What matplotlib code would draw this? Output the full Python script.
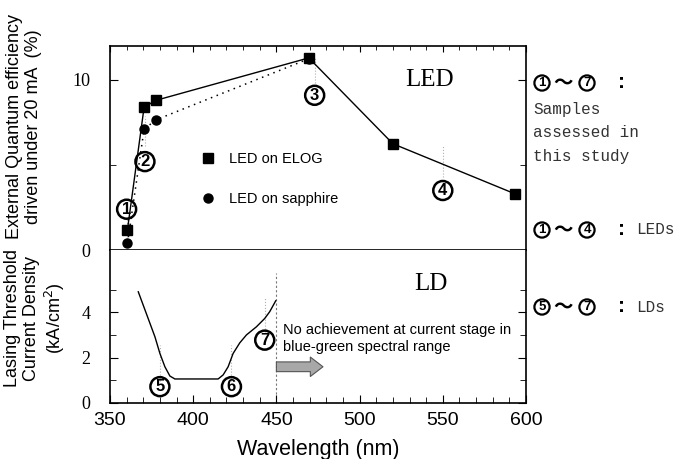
import matplotlib.pyplot as plt
import matplotlib.ticker as mticker

# 数据
elog_wl = [360.5, 370.5, 377.5, 469.5, 520, 593.5]
elog_eqe = [1.2, 8.4, 8.8, 11.3, 6.25, 3.3]
sapp_wl = [360.5, 370.5, 377.5, 469.5]
sapp_eqe = [0.4, 7.1, 7.65, 11.25]

ld_wl = [367, 377, 380, 383, 386, 389, 415, 418, 421, 424, 428, 432, 438, 443, 446, 449.6]
ld_jth = [4.91, 2.92, 2.18, 1.59, 1.18, 1.05, 1.05, 1.23, 1.59, 2.18, 2.65, 3.0, 3.36, 3.73, 4.03, 4.51]

# 样品编号（圆圈数字）
led_tags = ['1', '2', '3', '4']
led_tag_wl = [360, 371, 473, 550]
led_tag_y = [2.4, 5.2, 9.1, 3.5]
led_guide_lo = [0.0, 6.1, 9.8, 4.3]
led_guide_hi = [1.9, 7.9, 11.3, 6.1]

ld_tags = ['5', '6', '7']
ld_tag_wl = [380, 423, 443]
ld_tag_y = [0.71, 0.71, 2.77]
ld_guide_lo = [0.95, 0.95, 3.14]
ld_guide_hi = [2.55, 2.55, 4.62]

ld_limit_wl = 450
ld_limit_top = 5.73

# 右侧说明
note_ranges = [('1', '7'), ('1', '4'), ('5', '7')]
note_words = ['Samples\nassessed in\nthis study', 'LEDs', 'LDs']

CJK = ['Noto Sans CJK JP', 'DejaVu Sans']
SANS = 'Liberation Sans'
SERIF = 'Liberation Serif'
MONO = 'Liberation Mono'


def circled(obj, x, y, s, size, lw, **kw):
    return obj.text(x, y, s, ha='center', va='center', fontsize=size, fontweight='bold',
                    family=SANS, bbox=dict(boxstyle='circle,pad=0.12', fc='none', ec='k', lw=lw),
                    **kw)


fig = plt.figure(figsize=(6.76, 4.59), dpi=100)
ax1 = fig.add_axes([0.1627, 0.4553, 0.6154, 0.4445])
ax2 = fig.add_axes([0.1627, 0.1227, 0.6154, 0.3326], sharex=ax1)

for ax in (ax1, ax2):
    for s in ax.spines.values():
        s.set_linewidth(1.2)
ax2.spines['top'].set_visible(False)

# 上图：LED
ax1.plot(elog_wl, elog_eqe, color='k', lw=1.0)
ax1.plot(sapp_wl, sapp_eqe, color='k', lw=1.1, ls=(0, (1, 3)))
ax1.plot(elog_wl, elog_eqe, 'ks', ms=7.5, ls='none', label='LED on ELOG')
ax1.plot(sapp_wl, sapp_eqe, 'ko', ms=6.5, ls='none', label='LED on sapphire')
ax1.vlines(led_tag_wl, led_guide_lo, led_guide_hi, colors='#b0b0b0', lw=0.8, linestyles=':', zorder=0)
for t, x, y in zip(led_tags, led_tag_wl, led_tag_y):
    circled(ax1, x, y, t, 12, 1.8)

ax1.text(542, 10, 'LED', ha='center', va='center', fontsize=18, family=SERIF)

leg = ax1.legend(loc='upper left', bbox_to_anchor=(0.217, 0.478), frameon=False,
                 handlelength=1.0, handletextpad=1.0, labelspacing=1.75,
                 borderpad=0, borderaxespad=0, numpoints=1,
                 prop={'family': SANS, 'size': 10.5})

ax1.set_xlim(350, 600)
ax1.set_ylim(0, 12)
ax1.set_yticks([0, 10])
ax1.set_yticklabels(['0', '10'], family=SERIF, fontsize=13)
ax1.yaxis.set_minor_locator(mticker.FixedLocator([5]))
ax1.xaxis.set_major_locator(mticker.MultipleLocator(50))
ax1.xaxis.set_minor_locator(mticker.MultipleLocator(10))
ax1.tick_params(axis='x', which='both', direction='in', top=True, bottom=False,
                labelbottom=False, labeltop=False)
ax1.tick_params(axis='x', which='major', length=4)
ax1.tick_params(axis='x', which='minor', length=3)
ax1.tick_params(axis='y', which='both', direction='in', left=True, right=True, pad=14)
ax1.tick_params(axis='y', which='major', length=6)
ax1.tick_params(axis='y', which='minor', length=4)

# 下图：LD
ax2.plot(ld_wl, ld_jth, color='k', lw=1.0)
ax2.vlines(ld_tag_wl, ld_guide_lo, ld_guide_hi, colors='#b0b0b0', lw=0.8, linestyles=':', zorder=0)
ax2.vlines([ld_limit_wl], [0], [ld_limit_top], colors='#777777', lw=0.8, linestyles=(0, (2, 2)), zorder=0)
for t, x, y in zip(ld_tags, ld_tag_wl, ld_tag_y):
    circled(ax2, x, y, t, 12, 1.8)

ax2.text(543, 5.25, 'LD', ha='center', va='center', fontsize=18, family=SERIF)
ax2.text(454, 2.85, 'No achievement at current stage in\nblue-green spectral range',
         ha='left', va='center', fontsize=10.5, family=SANS, linespacing=1.3)
ax2.annotate('', xy=(478, 1.59), xytext=(ld_limit_wl, 1.59),
             arrowprops=dict(arrowstyle='simple,head_length=0.65,head_width=1.0,tail_width=0.5',
                             fc='#a8a8a8', ec='#555555', lw=0.8,
                             shrinkA=0, shrinkB=0, mutation_scale=14))

ax2.set_ylim(0, 6.76)
ax2.set_yticks([0, 2, 4])
ax2.set_yticklabels(['0', '2', '4'], family=SERIF, fontsize=13)
ax2.yaxis.set_minor_locator(mticker.FixedLocator([1, 3, 5]))
ax2.set_xticks([350, 400, 450, 500, 550, 600])
ax2.set_xticklabels(['350', '400', '450', '500', '550', '600'], family=SANS, fontsize=14)
ax2.xaxis.set_minor_locator(mticker.MultipleLocator(10))
ax2.tick_params(axis='x', which='both', direction='in', top=False, bottom=True, pad=7)
ax2.tick_params(axis='x', which='major', length=6)
ax2.tick_params(axis='x', which='minor', length=4)
ax2.tick_params(axis='y', which='both', direction='in', left=True, right=True, pad=14)
ax2.tick_params(axis='y', which='major', length=6)
ax2.tick_params(axis='y', which='minor', length=4)
ax2.set_xlabel('Wavelength (nm)', family=SANS, fontsize=15.5, labelpad=7)

# 纵轴标题
fig.text(0.036, 0.724, 'External Quantum efficiency\ndriven under 20 mA  (%)', rotation=90,
         ha='center', va='center', multialignment='center', fontsize=13, family=SANS,
         linespacing=1.15)
fig.text(0.052, 0.307, 'Lasing Threshold\nCurrent Density\n(kA/cm$^2$)', rotation=90,
         ha='center', va='center', multialignment='center', fontsize=13, family=SANS,
         linespacing=1.15)

# 右侧说明
note_y = [83, 230, 307]
for (a, b), word, yp in zip(note_ranges, note_words, note_y):
    fy = 1 - yp / 459
    circled(fig, 542 / 676, fy, a, 9.5, 1.6)
    fig.text(563 / 676, fy, '～', ha='center', va='center', fontsize=14, fontweight='bold', family=CJK)
    circled(fig, 587 / 676, fy, b, 9.5, 1.6)
    fig.text(621 / 676, fy, ':', ha='center', va='center', fontsize=15, fontweight='bold', family=SANS)
    if '\n' in word:
        fig.text(533 / 676, 1 - 102 / 459, word, ha='left', va='top', fontsize=11.5,
                 family=MONO, color='#333333', linespacing=1.7)
    else:
        fig.text(636 / 676, fy, word, ha='left', va='center', fontsize=11.5, family=MONO,
                 color='#333333')

fig.savefig('out.png', dpi=100)
